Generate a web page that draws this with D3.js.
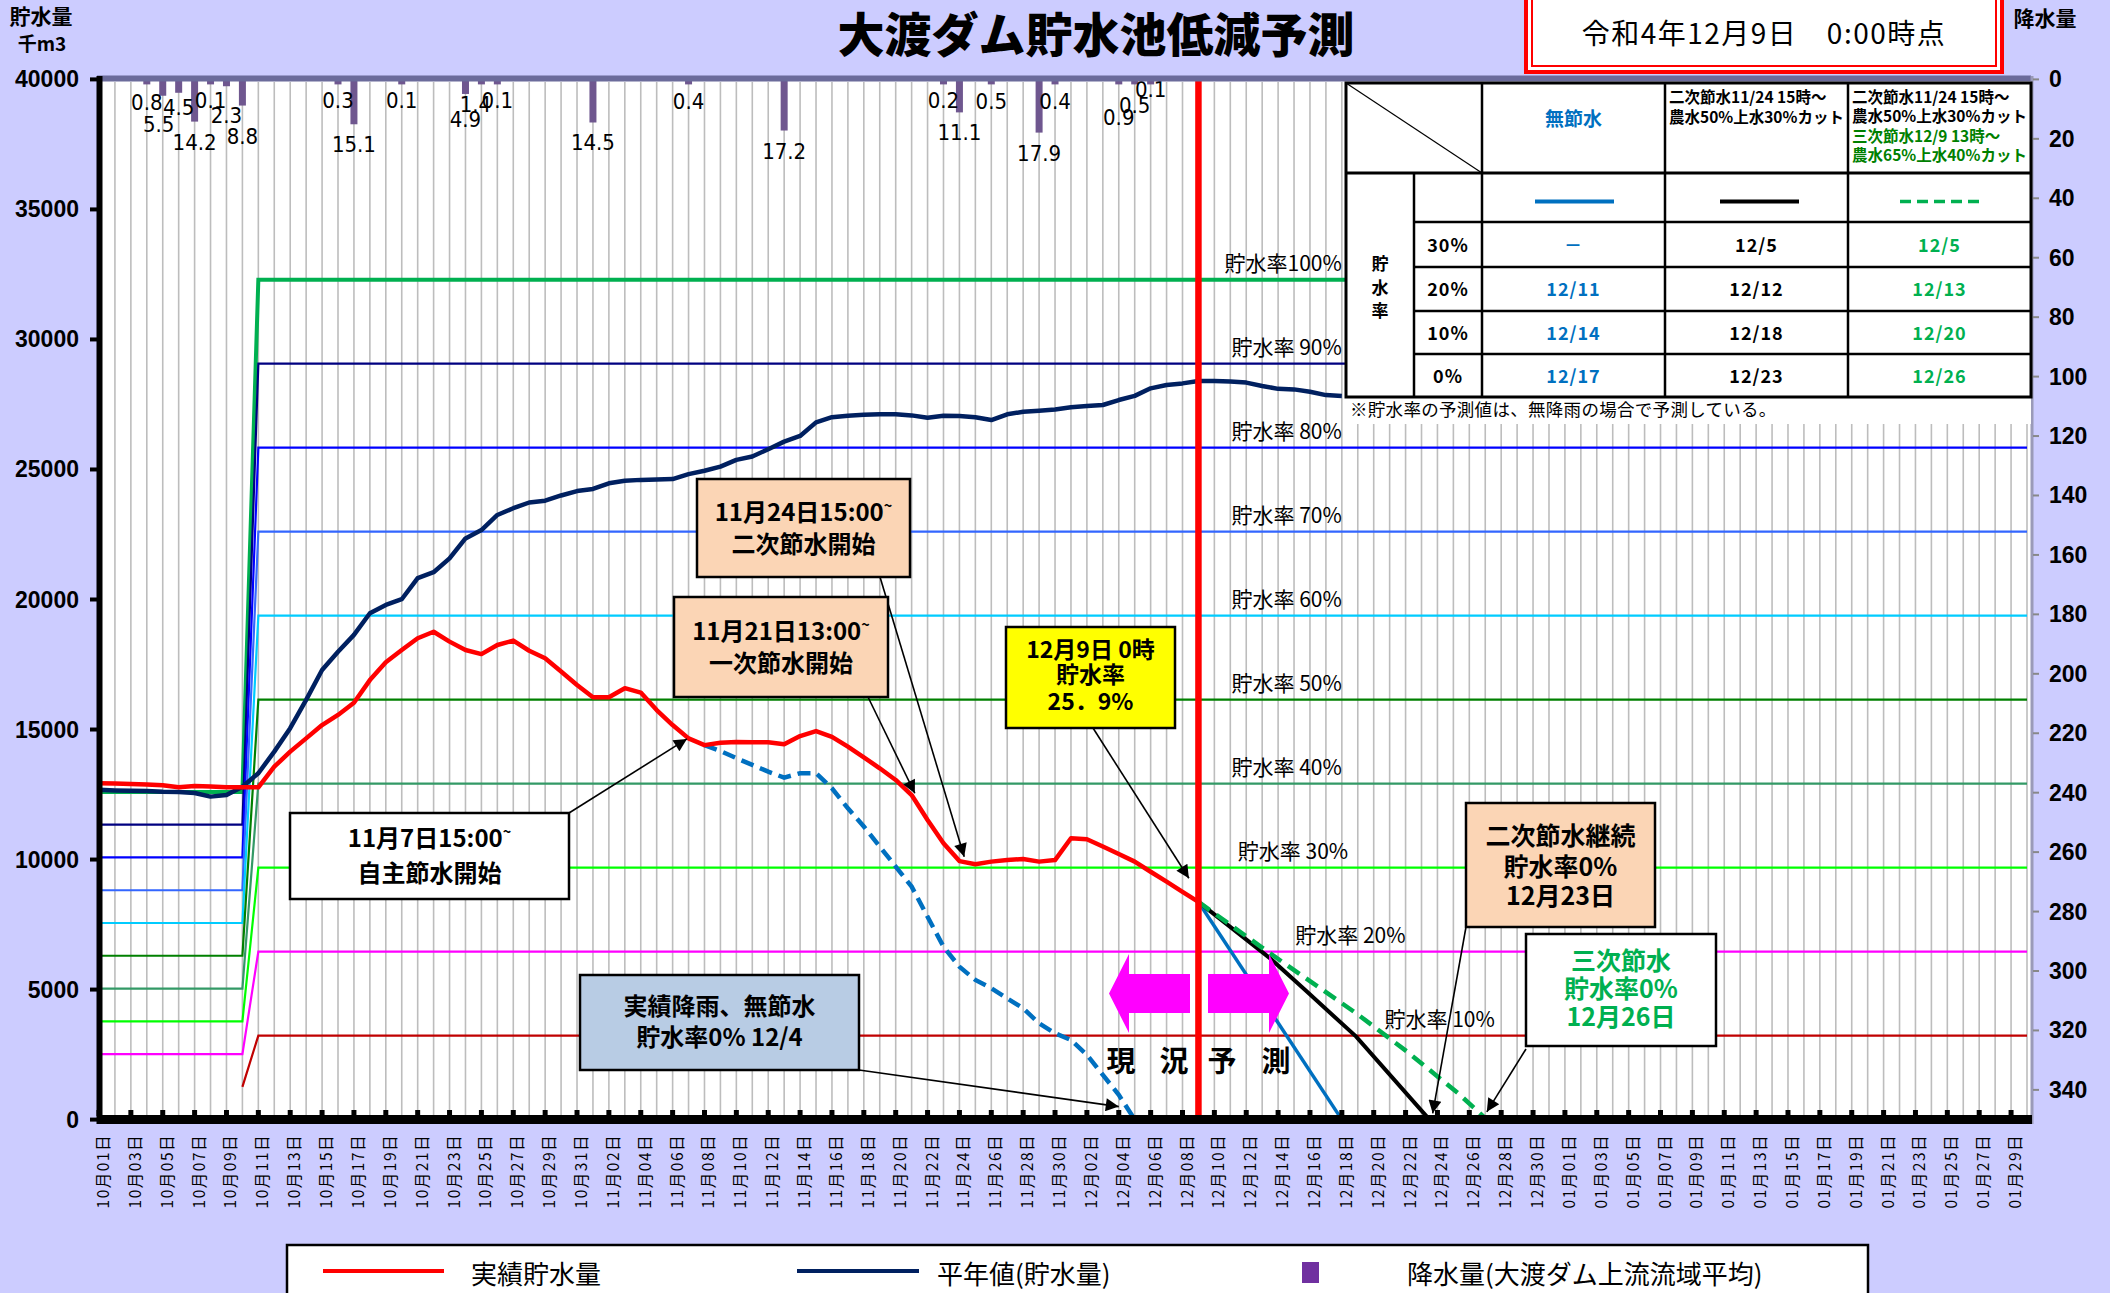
<!DOCTYPE html>
<html>
<head>
<meta charset="utf-8">
<script src="https://cdn.jsdelivr.net/npm/d3@7"></script>
<style>
body { margin: 0; background: #ccccff; }
text { font-family: "Noto Sans CJK JP", sans-serif; }
.num { font-family: "Liberation Sans", Arial, sans-serif; }
.narrow { font-family: "Liberation Sans Narrow", "DejaVu Sans Condensed", sans-serif; }
</style>
</head>
<body>
<svg id="chart" width="2110" height="1293"></svg>
<script>
// 日付カテゴリ 10/01～01/30
var startDay = new Date(2022, 9, 1)
var days = d3.timeDay.range(startDay, new Date(2023, 0, 31))

// 実績貯水量 (千m3) 10/01～12/09
var actual = [12930, 12920, 12905, 12890, 12855, 12780, 12830, 12805, 12780, 12780,
	12780, 13570, 14150, 14660, 15170, 15560, 16030, 16900, 17590, 18060,
	18510, 18760, 18380, 18060, 17900, 18250, 18420, 18030, 17740, 17230,
	16710, 16240, 16240, 16590, 16420, 15750, 15170, 14660, 14400, 14490,
	14520, 14510, 14510, 14430, 14750, 14940, 14720, 14340, 13930, 13510,
	13060, 12480, 11520, 10630, 9940, 9820, 9920, 9980, 10020, 9920,
	9980, 10820, 10780, 10500, 10210, 9920, 9530, 9150, 8760, 8370]

// 平年値(貯水量) 10/01～12/18
var normal = [12680, 12660, 12650, 12640, 12610, 12600, 12560, 12420, 12480, 12800,
	13320, 14150, 15050, 16140, 17290, 17990, 18640, 19470, 19790, 20010,
	20820, 21050, 21580, 22350, 22670, 23250, 23510, 23730, 23800, 24000,
	24170, 24250, 24470, 24570, 24600, 24610, 24630, 24820, 24950, 25110,
	25370, 25500, 25780, 26070, 26290, 26810, 27010, 27070, 27100, 27120,
	27120, 27080, 26990, 27070, 27060, 27010, 26900, 27120, 27220, 27260,
	27310, 27390, 27440, 27480, 27670, 27830, 28120, 28250, 28310, 28400,
	28400, 28380, 28340, 28210, 28100, 28080, 27990, 27860, 27830]

// 実績降雨・無節水 11/08～12/05
var noSaveStart = "11/08"
var noSave = [14400, 14170, 13900, 13640, 13380, 13150, 13320, 13320, 12740, 11970,
	11270, 10500, 9730, 8960, 7800, 6650, 5880, 5370, 5050, 4660,
	4280, 3700, 3320, 3060, 2490, 1720, 950, 0]

// 予測 (12/09からの日数, 貯水量)
var fcBase = "12/09"
var fcNoSave = [[0, 8370], [9, 0]]
var fcSecond = [[0, 8370], [4.5, 6200], [6.7, 4980], [9.9, 3190], [14.5, 0]]
var fcThird = [[0, 8370], [4.5, 6390], [9.9, 4090], [13.1, 2610], [16.3, 1010], [18.1, 0]]

// 降水量 (mm)
var rainDays = ["10/04", "10/05", "10/06", "10/07", "10/08", "10/09", "10/10", "10/16", "10/17", "10/20",
	"10/24", "10/25", "10/26", "11/01", "11/07", "11/13", "11/23", "11/24", "11/26", "11/29",
	"11/30", "12/04", "12/05", "12/06"]
var rainVal = [0.8, 5.5, 4.5, 14.2, 0.1, 2.3, 8.8, 0.3, 15.1, 0.1,
	4.9, 1.4, 0.1, 14.5, 0.4, 17.2, 0.2, 11.1, 0.5, 17.9,
	0.4, 0.9, 0.5, 0.1]

// 貯水率ライン
var rates = [100, 90, 80, 70, 60, 50, 40, 30, 20, 10]
var capBefore = 12600, capAfter = 32300, capChange = "10/11"

// 目盛
var leftTicks = [0, 5000, 10000, 15000, 20000, 25000, 30000, 35000, 40000]
var rightTicks = d3.range(0, 341, 20)

// 表
var tblRates = ["30%", "20%", "10%", "0%"]
var tblNoSave = ["－", "12/11", "12/14", "12/17"]
var tblSecond = ["12/5", "12/12", "12/18", "12/23"]
var tblThird = ["12/5", "12/13", "12/20", "12/26"]

function dayIdx(s) {
	var p = s.split("/")
	var m = +p[0], d = +p[1]
	return d3.timeDay.count(startDay, new Date(m >= 10 ? 2022 : 2023, m - 1, d))
}

var svg = d3.select("#chart")
svg.append("rect").attr("width", 2110).attr("height", 1293).attr("fill", "#ccccff")

var x = d3.scaleLinear().domain([0, 121]).range([99, 2027])
var y = d3.scaleLinear().domain([0, 40000]).range([1119.6, 79.4])
var yR = d3.scaleLinear().domain([0, 350]).range([79.4, 1119.6])

var defs = svg.append("defs")
defs.append("marker").attr("id", "ah").attr("viewBox", "0 0 10 10")
	.attr("refX", 10).attr("refY", 5).attr("markerWidth", 18).attr("markerHeight", 13)
	.attr("markerUnits", "userSpaceOnUse").attr("orient", "auto")
	.append("path").attr("d", "M0,0L10,5L0,10z").attr("fill", "#000")

// プロットエリア
svg.append("rect").attr("x", 97).attr("y", 79).attr("width", 2031 - 97).attr("height", 1120 - 79).attr("fill", "#fff")

// 縦グリッド
svg.append("g").selectAll("line").data(d3.range(1, 122)).enter().append("line")
	.attr("x1", function (d) { return x(d) }).attr("x2", function (d) { return x(d) })
	.attr("y1", 82).attr("y2", 1116)
	.attr("stroke", "#bdbdbd").attr("stroke-width", 1.6)

// 降水量バー
var ci = dayIdx(capChange)
var rainLabelDy = { "10/05": 36, "10/06": 22, "10/09": 37, "10/10": 38, "10/24": 33, "12/04": 43, "12/05": 32, "12/06": 17 }
var rainLabelDx = { "10/05": -4, "10/25": -6 }
var rainG = svg.append("g")
rainG.selectAll("rect").data(rainVal).enter().append("rect")
	.attr("x", function (d, i) { return x(dayIdx(rainDays[i])) - 3.5 })
	.attr("y", yR(0))
	.attr("width", 7)
	.attr("height", function (d) { return Math.max(yR(d), yR(0) + 5) - yR(0) })
	.attr("fill", "#6f578f")
rainG.selectAll("text").data(rainVal).enter().append("text")
	.attr("class", "narrow")
	.attr("x", function (d, i) { return x(dayIdx(rainDays[i])) + (rainLabelDx[rainDays[i]] || 0) })
	.attr("y", function (d, i) { return yR(d) + (rainLabelDy[rainDays[i]] || 28) })
	.attr("text-anchor", "middle").attr("font-size", 22)
	.text(function (d) { return d.toFixed(1) })

// 貯水率ライン
var rateColors = ["#00b050", "#000080", "#0000ff", "#3366ff", "#00ccff", "#008000", "#339966", "#00ff00", "#ff00ff", "#c00000"]
var line = d3.line().x(function (d) { return x(d[0]) }).y(function (d) { return y(d[1]) })
rates.forEach(function (r, k) {
	var pts = [[r == 10 ? ci - 1 : 0, capBefore * r / 100], [ci - 1, capBefore * r / 100], [ci, capAfter * r / 100], [121, capAfter * r / 100]]
	svg.append("path").attr("d", line(pts)).attr("fill", "none")
		.attr("stroke", rateColors[k]).attr("stroke-width", r == 100 ? 4 : 2.2)
})
var labelEnd = { 30: 78.4, 20: 82, 10: 87.6 }
svg.append("g").selectAll("text").data(rates).enter().append("text")
	.attr("x", function (d) { return x(labelEnd[d] || 78) })
	.attr("y", function (d) { return y(capAfter * d / 100) - 9 })
	.attr("text-anchor", "end").attr("font-size", 21)
	.text(function (d) { return "貯水率" + (d == 100 ? "" : " ") + d + "%" })

// 平年値
svg.append("path").attr("d", line(normal.map(function (v, i) { return [i, v] })))
	.attr("fill", "none").attr("stroke", "#002060").attr("stroke-width", 4.5).attr("stroke-linejoin", "round")

// 実績降雨・無節水
var ns = dayIdx(noSaveStart)
svg.append("path").attr("d", line(noSave.map(function (v, i) { return [ns + i, v] })))
	.attr("fill", "none").attr("stroke", "#0070c0").attr("stroke-width", 4.5).attr("stroke-dasharray", "13,7")

// 実績貯水量
svg.append("path").attr("d", line(actual.map(function (v, i) { return [i, v] })))
	.attr("fill", "none").attr("stroke", "#ff0000").attr("stroke-width", 4.5).attr("stroke-linejoin", "round")

// 予測線
var fb = dayIdx(fcBase)
function fcPts(a) { return a.map(function (p) { return [fb + p[0], p[1]] }) }
svg.append("path").attr("d", line(fcPts(fcNoSave))).attr("fill", "none").attr("stroke", "#0070c0").attr("stroke-width", 3.5)
svg.append("path").attr("d", line(fcPts(fcSecond))).attr("fill", "none").attr("stroke", "#000").attr("stroke-width", 4)
svg.append("path").attr("d", line(fcPts(fcThird))).attr("fill", "none").attr("stroke", "#00b050").attr("stroke-width", 4.5).attr("stroke-dasharray", "14,8")

// 現在線
svg.append("line").attr("x1", x(fb)).attr("x2", x(fb)).attr("y1", 80).attr("y2", 1117)
	.attr("stroke", "#ff0000").attr("stroke-width", 6.5)

// 枠・軸
svg.append("line").attr("x1", 97).attr("x2", 2031).attr("y1", 78.5).attr("y2", 78.5).attr("stroke", "#6b6b9b").attr("stroke-width", 6)
svg.append("line").attr("x1", 2032).attr("x2", 2032).attr("y1", 76).attr("y2", 1124).attr("stroke", "#9a9ab8").attr("stroke-width", 3)
svg.append("line").attr("x1", 99.5).attr("x2", 99.5).attr("y1", 76).attr("y2", 1124).attr("stroke", "#000").attr("stroke-width", 6)
svg.append("line").attr("x1", 97).attr("x2", 2032).attr("y1", 1119.5).attr("y2", 1119.5).attr("stroke", "#000").attr("stroke-width", 9)

// 左軸
var la = svg.append("g")
la.selectAll("line").data(leftTicks).enter().append("line")
	.attr("x1", 90).attr("x2", 97).attr("y1", function (d) { return y(d) }).attr("y2", function (d) { return y(d) })
	.attr("stroke", "#000").attr("stroke-width", 4)
la.selectAll("text").data(leftTicks).enter().append("text")
	.attr("class", "num").attr("x", 79).attr("y", function (d) { return y(d) })
	.attr("dominant-baseline", "central").attr("text-anchor", "end")
	.attr("font-size", 23).attr("font-weight", "bold").text(function (d) { return d })

// 右軸
var ra = svg.append("g")
ra.selectAll("line").data(rightTicks).enter().append("line")
	.attr("x1", 2033).attr("x2", 2039).attr("y1", function (d) { return yR(d) }).attr("y2", function (d) { return yR(d) })
	.attr("stroke", "#888").attr("stroke-width", 2)
ra.selectAll("text").data(rightTicks).enter().append("text")
	.attr("class", "num").attr("x", 2049).attr("y", function (d) { return yR(d) })
	.attr("dominant-baseline", "central").attr("text-anchor", "start")
	.attr("font-size", 23).attr("font-weight", "bold").text(function (d) { return d })

// 日付ラベル
var fmt = d3.timeFormat("%m月%d日")
var labelIdx = d3.range(0, 121, 2)
svg.append("g").selectAll("line").data(labelIdx).enter().append("line")
	.attr("x1", function (d) { return x(d) }).attr("x2", function (d) { return x(d) })
	.attr("y1", 1110).attr("y2", 1116).attr("stroke", "#000").attr("stroke-width", 5)
svg.append("g").selectAll("text").data(labelIdx).enter().append("text")
	.attr("transform", function (d) { return "translate(" + (x(d) + 3) + ",1134) rotate(-90)" })
	.attr("text-anchor", "end").attr("dominant-baseline", "central")
	.attr("font-size", 15.5).attr("letter-spacing", 1.5)
	.text(function (d) { return fmt(days[d]) })

// 軸タイトル
svg.append("text").attr("x", 41).attr("y", 24).attr("text-anchor", "middle").attr("font-size", 21).attr("font-weight", "bold").text("貯水量")
svg.append("text").attr("x", 42).attr("y", 51).attr("text-anchor", "middle").attr("font-size", 19).attr("font-weight", "bold").text("千m3")
svg.append("text").attr("x", 2045).attr("y", 26).attr("text-anchor", "middle").attr("font-size", 21).attr("font-weight", "bold").text("降水量")

// タイトル
svg.append("text").attr("x", 1096).attr("y", 52).attr("text-anchor", "middle")
	.attr("font-size", 47).attr("font-weight", 900).text("大渡ダム貯水池低減予測")

// 日時ボックス
svg.append("rect").attr("x", 1526).attr("y", -10).attr("width", 476).attr("height", 82).attr("fill", "#fff").attr("stroke", "#ff0000").attr("stroke-width", 4)
svg.append("rect").attr("x", 1532).attr("y", -10).attr("width", 464).attr("height", 76).attr("fill", "none").attr("stroke", "#ff0000").attr("stroke-width", 2)
svg.append("text").attr("x", 1764).attr("y", 44).attr("text-anchor", "middle").attr("font-size", 28).attr("letter-spacing", 1.5)
	.text("令和4年12月9日　0:00時点")

// 注記ボックス
function note(bx, by, bw, bh, fill, lines, color, size, cy, tip, from) {
	var g = svg.append("g")
	if (tip) {
		g.append("line").attr("x1", from[0]).attr("y1", from[1])
			.attr("x2", x(tip[0])).attr("y2", y(tip[1]))
			.attr("stroke", "#000").attr("stroke-width", 1.6).attr("marker-end", "url(#ah)")
	}
	g.append("rect").attr("x", bx).attr("y", by).attr("width", bw).attr("height", bh)
		.attr("fill", fill).attr("stroke", "#000").attr("stroke-width", 2.5)
	lines.forEach(function (t, k) {
		var tx = g.append("text").attr("x", bx + bw / 2).attr("y", cy[k]).attr("text-anchor", "middle")
			.attr("font-size", size).attr("font-weight", "bold").attr("fill", color)
		if (t.slice(-1) == "~") {
			tx.text(t.slice(0, -1))
			tx.append("tspan").attr("dy", -10).attr("font-size", size * 0.6).text("~")
		} else tx.text(t)
	})
}
note(697, 479, 213, 98, "#fbd5b5", ["11月24日15:00~", "二次節水開始"], "#000", 24, [521, 553], [54.3, 10110], [880, 577])
note(674, 597, 214, 100, "#fbd5b5", ["11月21日13:00~", "一次節水開始"], "#000", 24, [640, 672], [51.2, 12550], [868, 697])
note(1006, 627, 169, 101, "#ffff00", ["12月9日 0時", "貯水率", "25．9%"], "#000", 23, [658, 683, 710], [68.4, 9280], [1093, 728])
note(290, 813, 279, 86, "#fff", ["11月7日15:00~", "自主節水開始"], "#000", 24, [847, 882], [36.9, 14640], [569, 813])
note(580, 975, 279, 95, "#b8cce4", ["実績降雨、無節水", "貯水率0%  12/4"], "#000", 24, [1015, 1046], [64, 500], [859, 1070])
note(1466, 803, 189, 124, "#fbd5b5", ["二次節水継続", "貯水率0%", "12月23日"], "#000", 25, [845, 876, 905], [83.7, 240], [1466, 927])
note(1526, 934, 190, 112, "#fff", ["三次節水", "貯水率0%", "12月26日"], "#00b050", 25, [970, 998, 1026], [87.1, 300], [1526, 1049])

// 現況・予測 矢印
svg.append("path").attr("d", "M1109,993.5L1129,954L1129,974L1190,974L1190,1013L1129,1013L1129,1033Z").attr("fill", "#ff00ff")
svg.append("path").attr("d", "M1289,993.5L1269,954L1269,974L1208,974L1208,1013L1269,1013L1269,1033Z").attr("fill", "#ff00ff")
var gk = ["現", "況", "予", "測"], gx = [1121, 1174, 1222, 1276]
gk.forEach(function (c, k) {
	svg.append("text").attr("x", gx[k]).attr("y", 1072).attr("text-anchor", "middle")
		.attr("font-size", 29).attr("font-weight", "bold").text(c)
})

// 表
var cx = [1346, 1414, 1482, 1665, 1848, 2031]
var ry = [83, 173, 222, 267, 311, 354, 397]
var tb = svg.append("g")
tb.append("rect").attr("x", cx[0]).attr("y", ry[0]).attr("width", cx[5] - cx[0]).attr("height", ry[6] - ry[0]).attr("fill", "#fff")
tb.append("rect").attr("x", cx[0]).attr("y", ry[6]).attr("width", cx[5] - cx[0]).attr("height", 27).attr("fill", "#fff")
function tl(x1, y1, x2, y2, w) { tb.append("line").attr("x1", x1).attr("y1", y1).attr("x2", x2).attr("y2", y2).attr("stroke", "#000").attr("stroke-width", w) }
tl(cx[0], ry[0], cx[2], ry[1], 1.2)
tl(cx[0], ry[1], cx[5], ry[1], 3)
for (var r = 2; r <= 5; r++) tl(cx[1], ry[r], cx[5], ry[r], 2.5)
tl(cx[1], ry[1], cx[1], ry[6], 2.5)
for (var c = 2; c <= 4; c++) tl(cx[c], ry[0], cx[c], ry[6], 2.5)
tb.append("rect").attr("x", cx[0]).attr("y", ry[0]).attr("width", cx[5] - cx[0]).attr("height", ry[6] - ry[0])
	.attr("fill", "none").attr("stroke", "#000").attr("stroke-width", 3)
tb.append("text").attr("x", (cx[2] + cx[3]) / 2).attr("y", 126).attr("text-anchor", "middle")
	.attr("font-size", 19).attr("font-weight", "bold").attr("fill", "#0070c0").text("無節水")
var hd3 = ["二次節水11/24 15時～", "農水50%上水30%カット"]
var hd4 = ["二次節水11/24 15時～", "農水50%上水30%カット", "三次節水12/9 13時～", "農水65%上水40%カット"]
hd3.forEach(function (t, k) {
	tb.append("text").attr("x", cx[3] + 4).attr("y", 103 + k * 19.5).attr("font-size", 15.5).attr("font-weight", "bold").text(t)
})
hd4.forEach(function (t, k) {
	tb.append("text").attr("x", cx[4] + 4).attr("y", 103 + k * 19.3).attr("font-size", 15.5).attr("font-weight", "bold")
		.attr("fill", k < 2 ? "#000" : "#008000").text(t)
})
var sy = (ry[1] + ry[2]) / 2 + 4
tb.append("line").attr("x1", 1535).attr("x2", 1614).attr("y1", sy).attr("y2", sy).attr("stroke", "#0070c0").attr("stroke-width", 4)
tb.append("line").attr("x1", 1720).attr("x2", 1799).attr("y1", sy).attr("y2", sy).attr("stroke", "#000").attr("stroke-width", 4)
tb.append("line").attr("x1", 1900).attr("x2", 1982).attr("y1", sy).attr("y2", sy).attr("stroke", "#00b050").attr("stroke-width", 3.5).attr("stroke-dasharray", "11,6")
;["貯", "水", "率"].forEach(function (c, k) {
	tb.append("text").attr("x", (cx[0] + cx[1]) / 2).attr("y", 270 + k * 23.5).attr("text-anchor", "middle")
		.attr("font-size", 17).attr("font-weight", "bold").text(c)
})
function col(arr, xc, color) {
	arr.forEach(function (t, k) {
		tb.append("text").attr("x", xc).attr("y", (ry[k + 2] + ry[k + 3]) / 2 + 7).attr("text-anchor", "middle")
			.attr("font-size", 18).attr("font-weight", "bold").attr("letter-spacing", 1).attr("fill", color).text(t)
	})
}
col(tblRates, (cx[1] + cx[2]) / 2, "#000")
col(tblNoSave, (cx[2] + cx[3]) / 2, "#0070c0")
col(tblSecond, (cx[3] + cx[4]) / 2, "#000")
col(tblThird, (cx[4] + cx[5]) / 2, "#00b050")
tb.append("text").attr("x", 1350).attr("y", 416).attr("font-size", 17.5).attr("letter-spacing", 0.3).text("※貯水率の予測値は、無降雨の場合で予測している。")

// 凡例
var lg = svg.append("g")
lg.append("rect").attr("x", 287).attr("y", 1245).attr("width", 1581).attr("height", 60).attr("fill", "#fff").attr("stroke", "#000").attr("stroke-width", 2.5)
lg.append("line").attr("x1", 323).attr("x2", 444).attr("y1", 1271).attr("y2", 1271).attr("stroke", "#ff0000").attr("stroke-width", 4)
lg.append("text").attr("x", 471).attr("y", 1284).attr("font-size", 26).text("実績貯水量")
lg.append("line").attr("x1", 797).attr("x2", 919).attr("y1", 1271).attr("y2", 1271).attr("stroke", "#002060").attr("stroke-width", 4)
lg.append("text").attr("x", 937).attr("y", 1284).attr("font-size", 26).text("平年値(貯水量)")
lg.append("rect").attr("x", 1302).attr("y", 1262).attr("width", 17).attr("height", 21).attr("fill", "#7030a0")
lg.append("text").attr("x", 1407).attr("y", 1284).attr("font-size", 26).text("降水量(大渡ダム上流流域平均)")
</script>
</body>
</html>
